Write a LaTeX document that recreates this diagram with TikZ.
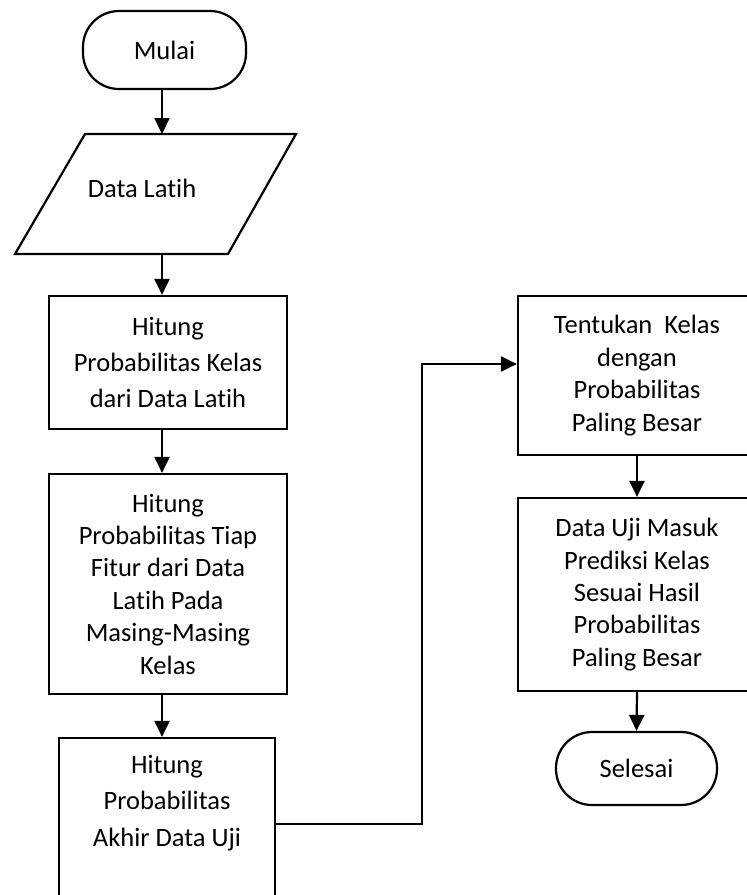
\documentclass[tikz,border=0pt]{standalone}
\usepackage{fontspec}
\setmainfont{Carlito}[Ligatures=NoCommon]
\usetikzlibrary{arrows.meta}
\begin{document}
\begin{tikzpicture}[x=1pt,y=-1pt,
  line width=2.2pt,
  flow/.style={-{Triangle[length=16pt,width=15pt]}},
  txt/.style={align=center, font=\fontsize{26.5}{32.4}\selectfont, inner sep=0pt},
  txtwide/.style={align=center, font=\fontsize{26.5}{36.2}\selectfont, inner sep=0pt},
  procbox/.style={draw, rectangle, inner sep=0pt},
  term/.style={draw, rectangle, rounded corners=36pt, inner sep=0pt}]
\useasboundingbox (0,0) rectangle (747,895);

% vertical line of the left column
\coordinate (spine) at (162,0);

% start terminal
\node[term, txt, minimum width=163pt, minimum height=78pt] (mulai) at (164.5,50) {Mulai};

% input parallelogram
\coordinate (dlA) at (15,254);
\coordinate (dlB) at (228,254);
\coordinate (dlC) at (296,134);
\coordinate (dlD) at (85,134);
\draw (dlA) -- (dlB) -- (dlC) -- (dlD) -- cycle;
\coordinate (dlIn) at (162,134);
\coordinate (dlOut) at (162,254);
\node[txt] (datalatih) at (142,188) {Data Latih};

% process boxes, left column
\node[procbox, txtwide, minimum width=238pt, minimum height=133pt] (b1) at (168,362.5)
  {Hitung\\Probabilitas Kelas\\dari Data Latih};
\node[procbox, txt, minimum width=238pt, minimum height=220pt] (b2) at (168,584)
  {Hitung\\Probabilitas Tiap\\Fitur dari Data\\Latih Pada\\Masing-Masing\\Kelas};
\node[procbox, minimum width=216pt, minimum height=172pt] (b3) at (167,824) {};
\node[txtwide] (b3text) at (167,803) {Hitung\\Probabilitas\\Akhir Data Uji};

% process boxes, right column
\node[procbox, txt, minimum width=238pt, minimum height=159pt] (b4) at (637,375.5)
  {Tentukan\ \ Kelas\\dengan\\Probabilitas\\Paling Besar};
\node[procbox, txt, minimum width=238pt, minimum height=193pt] (b5) at (637,594.5)
  {Data Uji Masuk\\Prediksi Kelas\\Sesuai Hasil\\Probabilitas\\Paling Besar};

% end terminal
\node[term, txt, minimum width=161pt, minimum height=73pt] (selesai) at (636.5,768.5) {Selesai};

% connectors
\draw[flow] (mulai.south -| spine) -- (dlIn);
\draw[flow] (dlOut) -- (b1.north -| spine);
\draw[flow] (b1.south -| spine) -- (b2.north -| spine);
\draw[flow] (b2.south -| spine) -- (b3.north -| spine);
\coordinate (elbow) at (422,364);
\draw[flow] (b3.east) -| (elbow) -- (elbow -| b4.west);
\draw[flow] (b4.south) -- (b5.north);
\draw[flow] (b5.south) -- (selesai.north);
\end{tikzpicture}
\end{document}
